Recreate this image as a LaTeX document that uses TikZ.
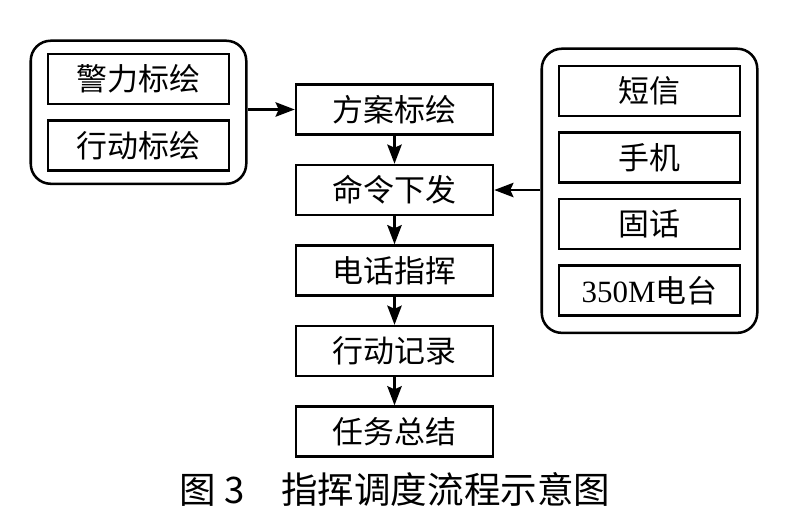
\documentclass[tikz,border=0pt]{standalone}
\usepackage{fontspec}
\setmainfont{Liberation Serif}
\newfontfamily\cjk{Noto Sans CJK SC}
\usetikzlibrary{positioning,fit,arrows.meta}

\begin{document}
\begin{tikzpicture}[
        box/.style={draw, line width=1.8pt, minimum width=4.925cm, minimum height=1.25cm, inner sep=0pt, font=\cjk\fontsize{22}{24}\selectfont},
        sidebox/.style={box, minimum width=4.525cm},
        group/.style={draw, line width=1.8pt, rounded corners=0.5cm, inner xsep=0.4cm, inner ysep=0.3cm},
        flow/.style={-{Stealth[length=0.48cm,width=0.36cm,inset=0.08cm]}, line width=1.8pt},
        node distance=0.7cm
    ]
        \useasboundingbox (0, 0) rectangle (19.725, 13.025);

        % main column
        \node[box] (fangan) at (9.8625, 10.2875) {方案标绘};
        \node[box, below=of fangan] (mingling) {命令下发};
        \node[box, below=of mingling] (dianhua) {电话指挥};
        \node[box, below=of dianhua] (jilu) {行动记录};
        \node[box, below=of jilu] (zongjie) {任务总结};

        % left group
        \node[sidebox] (jingli) at (3.4625, 11.05) {警力标绘};
        \node[sidebox, below=0.35cm of jingli] (xingdong) {行动标绘};
        \node[group, fit=(jingli)(xingdong)] (biaohui) {};

        % right group
        \node[sidebox] (duanxin) at (16.2375, 10.75) {短信};
        \node[sidebox, below=0.35cm of duanxin] (shouji) {手机};
        \node[sidebox, below=0.35cm of shouji] (guhua) {固话};
        \node[sidebox, below=0.35cm of guhua] (diantai) {{\rmfamily 350M}电台};
        \node[group, inner ysep=0.4cm, fit=(duanxin)(diantai)] (tongxin) {};

        \draw[flow] (biaohui.east |- fangan) -- (fangan.west);
        \draw[flow] (tongxin.west |- mingling) -- (mingling.east);
        \foreach \a/\b in {fangan/mingling, mingling/dianhua, dianhua/jilu, jilu/zongjie}
            \draw[flow] (\a) -- (\b);

        \node[font=\cjk\fontsize{26}{30}\selectfont] (caption) at (9.875, 0.8) {图~3\hspace{1em}指挥调度流程示意图};
    \end{tikzpicture}
\end{document}
